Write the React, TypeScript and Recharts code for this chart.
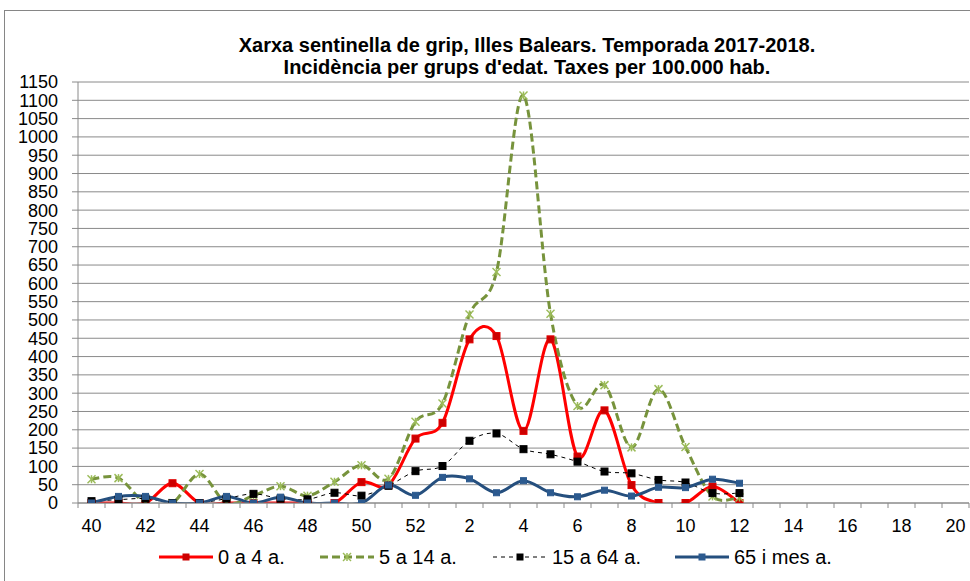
import React from 'react';
import { LineChart, Line, XAxis, YAxis, CartesianGrid } from 'recharts';

const weeks = ['40','41','42','43','44','45','46','47','48','49','50','51','52','1','2','3','4','5','6','7','8','9','10','11','12','13','14','15','16','17','18','19','20'];
const age0to4 = [0,0,0,54,0,0,0,0,0,0,57,49,176,219,447,456,197,447,127,253,49,0,0,45,0];
const age5to14 = [65,68,0,0,79,0,20,46,20,58,103,66,222,272,515,631,1113,517,265,322,152,311,153,18,15];
const age15to64 = [5,9,12,0,0,12,25,12,10,28,20,47,87,101,170,190,147,133,113,86,81,63,56,27,27];
const age65plus = [0,18,18,0,0,18,0,16,0,0,0,49,21,70,66,28,61,28,17,35,19,43,42,65,54];
const yTicks = [0,50,100,150,200,250,300,350,400,450,500,550,600,650,700,750,800,850,900,950,1000,1050,1100,1150];
const seriesNames = ['0 a 4 a.', '5 a 14 a.', '15 a 64 a.', '65 i mes a.'];
const titleLines = ['Xarxa sentinella de grip, Illes Balears. Temporada 2017-2018.', "Incidència per grups d'edat. Taxes per 100.000 hab."];

const data = weeks.map((w, i) => ({
  week: w,
  a: i < age0to4.length ? age0to4[i] : null,
  b: i < age5to14.length ? age5to14[i] : null,
  c: i < age15to64.length ? age15to64[i] : null,
  d: i < age65plus.length ? age65plus[i] : null,
}));

const FONT = '"Liberation Sans", Arial, sans-serif';
const GRAY = '#8a8a8a';
const RED = '#FF0000';
const GREEN = '#77933C';
const GREEN_MK = '#9BBB59';
const BLUE = '#254F7E';

// Excel-like smoothing (Catmull-Rom style Bezier)
function excelCurve(context: any) {
  let pts: number[][] = [];
  return {
    areaStart() {},
    areaEnd() {},
    lineStart() { pts = []; },
    lineEnd() {
      const n = pts.length;
      if (!n) return;
      context.moveTo(pts[0][0], pts[0][1]);
      for (let i = 0; i < n - 1; i++) {
        const p0 = pts[i - 1] || pts[i];
        const p1 = pts[i];
        const p2 = pts[i + 1];
        const p3 = pts[i + 2] || p2;
        context.bezierCurveTo(
          p1[0] + (p2[0] - p0[0]) / 6, p1[1] + (p2[1] - p0[1]) / 6,
          p2[0] - (p3[0] - p1[0]) / 6, p2[1] - (p3[1] - p1[1]) / 6,
          p2[0], p2[1]
        );
      }
    },
    point(x: number, y: number) { pts.push([+x, +y]); },
  };
}

const squareDot = (fill: string, stroke: string, size: number) => (props: any) => {
  const { cx, cy, index } = props;
  if (cx == null || cy == null || isNaN(cy)) return <g key={`e${index}`} />;
  return <rect key={`s${index}`} x={cx - size / 2} y={cy - size / 2} width={size} height={size} fill={fill} stroke={stroke} strokeWidth={1} />;
};

const starDot = (props: any) => {
  const { cx, cy, index } = props;
  if (cx == null || cy == null || isNaN(cy)) return <g key={`e${index}`} />;
  const r = 4;
  return (
    <g key={`st${index}`} stroke={GREEN_MK} strokeWidth={1.5}>
      <line x1={cx - r} y1={cy - r} x2={cx + r} y2={cy + r} />
      <line x1={cx - r} y1={cy + r} x2={cx + r} y2={cy - r} />
      <line x1={cx} y1={cy - r} x2={cx} y2={cy + r} />
    </g>
  );
};

const XTick = (props: any) => {
  const { x, y, payload, index } = props;
  const off = payload && payload.offset ? payload.offset : 13.5;
  return (
    <g>
      <line x1={x - off} y1={y} x2={x - off} y2={y + 5} stroke={GRAY} />
      {index === weeks.length - 1 && <line x1={x + off} y1={y} x2={x + off} y2={y + 5} stroke={GRAY} />}
      {index % 2 === 0 && (
        <text x={x} y={y + 29} textAnchor="middle" fontSize={18} fontFamily={FONT} fill="#000">{payload.value}</text>
      )}
    </g>
  );
};

const legendItems = [
  { name: seriesNames[0], left: 159, color: RED, dash: undefined, width: 3, mk: 'sq', mkFill: '#CC0000' },
  { name: seriesNames[1], left: 320, color: GREEN, dash: '8 4', width: 3, mk: 'star', mkFill: GREEN_MK },
  { name: seriesNames[2], left: 493, color: '#000', dash: '4 4', width: 1, mk: 'sq', mkFill: '#000' },
  { name: seriesNames[3], left: 675, color: BLUE, dash: undefined, width: 3, mk: 'sq', mkFill: '#2C5A8F' },
];

export default function App() {
  return (
    <div style={{ position: 'absolute', left: 0, top: 0, width: 970, height: 581, background: '#fff', overflow: 'hidden' }}>
      <div style={{ position: 'absolute', left: 4, top: 10, width: 1000, height: 620, border: '1px solid #868686' }} />
      <div style={{ position: 'absolute', left: 177, width: 700, top: 34, textAlign: 'center', fontFamily: FONT, fontWeight: 'bold', fontSize: 20, lineHeight: '22px', color: '#000' }}>
        <div>{titleLines[0]}</div>
        <div>{titleLines[1]}</div>
      </div>
      <div style={{ position: 'absolute', left: 0, top: 0 }}>
        <LineChart width={970} height={581} data={data} margin={{ top: 82, right: 1, bottom: 38, left: 14 }}>
          <CartesianGrid vertical={false} stroke={GRAY} strokeWidth={1} />
          <XAxis dataKey="week" scale="band" interval={0} tickSize={0} tickMargin={0} height={40} stroke={GRAY} tick={<XTick />} tickLine={false} />
          <YAxis domain={[0, 1150]} ticks={yTicks} interval={0} width={64} stroke={GRAY} tickSize={6} tickMargin={14}
            tick={{ fontSize: 18, fontFamily: FONT, fill: '#000' }} allowDataOverflow />
          <Line dataKey="a" name={seriesNames[0]} type={excelCurve as any} stroke={RED} strokeWidth={3} dot={squareDot('#CC0000', '#E00000', 7)} isAnimationActive={false} connectNulls={false} />
          <Line dataKey="b" name={seriesNames[1]} type={excelCurve as any} stroke={GREEN} strokeWidth={3} strokeDasharray="8 4" dot={starDot} isAnimationActive={false} connectNulls={false} />
          <Line dataKey="c" name={seriesNames[2]} type={excelCurve as any} stroke="#000" strokeWidth={1} strokeDasharray="4 4" dot={squareDot('#000', '#000', 7)} isAnimationActive={false} connectNulls={false} />
          <Line dataKey="d" name={seriesNames[3]} type={excelCurve as any} stroke={BLUE} strokeWidth={3} dot={squareDot('#2C5A8F', '#2C5A8F', 6)} isAnimationActive={false} connectNulls={false} />
        </LineChart>
      </div>
      {legendItems.map((it) => (
        <div key={it.name} style={{ position: 'absolute', left: it.left, top: 544, height: 26, display: 'flex', alignItems: 'center', fontFamily: FONT, fontSize: 20, color: '#000', whiteSpace: 'nowrap' }}>
          <svg width={54} height={14} style={{ marginRight: 5 }}>
            <line x1={0} y1={7} x2={54} y2={7} stroke={it.color} strokeWidth={it.width} strokeDasharray={it.dash} />
            {it.mk === 'sq' ? (
              <rect x={23.5} y={3.5} width={7} height={7} fill={it.mkFill} />
            ) : (
              <g stroke={GREEN_MK} strokeWidth={1.5}>
                <line x1={23} y1={3} x2={31} y2={11} />
                <line x1={23} y1={11} x2={31} y2={3} />
                <line x1={27} y1={3} x2={27} y2={11} />
              </g>
            )}
          </svg>
          <span>{it.name}</span>
        </div>
      ))}
    </div>
  );
}
